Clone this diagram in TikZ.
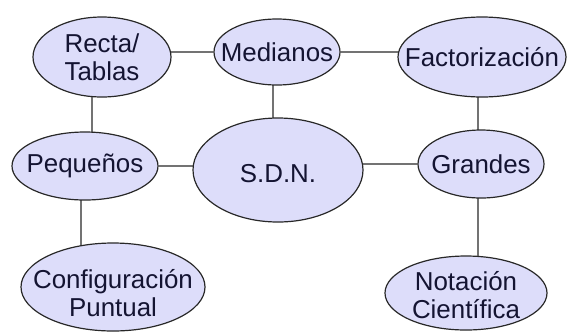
\documentclass[tikz,border=0pt]{standalone}
\usepackage{fontspec}
\setmainfont{Liberation Sans}
\usetikzlibrary{shapes.geometric,backgrounds}
\definecolor{lila}{RGB}{221,221,250}
\definecolor{tinta}{RGB}{20,20,50}
\definecolor{borde}{RGB}{40,40,40}

\begin{document}
\begin{tikzpicture}[x=1bp, y=-1bp,
            burbuja/.style={ellipse, draw=borde, fill=lila, line width=1.2bp, inner sep=0pt},
            texto/.style={text=tinta, align=center, inner sep=0pt,
                          font=\fontsize{26}{28.5}\selectfont},
            linea/.style={draw=borde, line width=1.2bp}]
            \useasboundingbox (0,0) rectangle (567,331);
            \node[burbuja, minimum width=138bp, minimum height=80bp,
                  label={[texto]center:Recta/\\Tablas}]         (recta)    at (102,57)  {};
            \node[burbuja, minimum width=126bp, minimum height=66bp,
                  label={[texto]center:Medianos}]               (medianos) at (277,52)  {};
            \node[burbuja, minimum width=168bp, minimum height=80bp,
                  label={[texto]center:Factorización}]          (fact)     at (482,57)  {};
            \node[burbuja, minimum width=146bp, minimum height=68bp,
                  label={[texto]center:Pequeños}]               (pequenos) at (85,166)  {};
            \node[burbuja, minimum width=170bp, minimum height=104bp,
                  label={[texto,yshift=-4bp]center:S.D.N.}]     (sdn)      at (278,170) {};
            \node[burbuja, minimum width=126bp, minimum height=68bp,
                  label={[texto]center:Grandes}]                (grandes)  at (481,164) {};
            \node[burbuja, minimum width=184bp, minimum height=88bp,
                  label={[texto,yshift=-6bp]center:Configuración\\Puntual}] (config) at (113,287) {};
            \node[burbuja, minimum width=162bp, minimum height=74bp,
                  label={[texto,yshift=-2bp]center:Notación\\Científica}]   (notacion) at (466,293) {};
            % conectores detras de las burbujas
            \begin{scope}[on background layer]
                \path[linea] (recta.center |- medianos.center) -- (medianos)
                             (medianos) -- (medianos -| fact)
                             ([xshift=-10bp]recta.center) -- ([xshift=7bp]pequenos.center)
                             ([xshift=-4bp]medianos.center) -- ([xshift=-4bp]medianos.center |- sdn.center)
                             ([xshift=-4bp]fact.center) -- ([xshift=-4bp]fact.center |- grandes.center)
                             (pequenos) -- (pequenos -| sdn)
                             (grandes) -- (grandes -| sdn)
                             ([xshift=-4bp]pequenos.center) -- ([xshift=-4bp]pequenos.center |- config.center)
                             ([xshift=-3bp]grandes.center) -- ([xshift=-3bp]grandes.center |- notacion.center);
            \end{scope}
        \end{tikzpicture}
\end{document}
